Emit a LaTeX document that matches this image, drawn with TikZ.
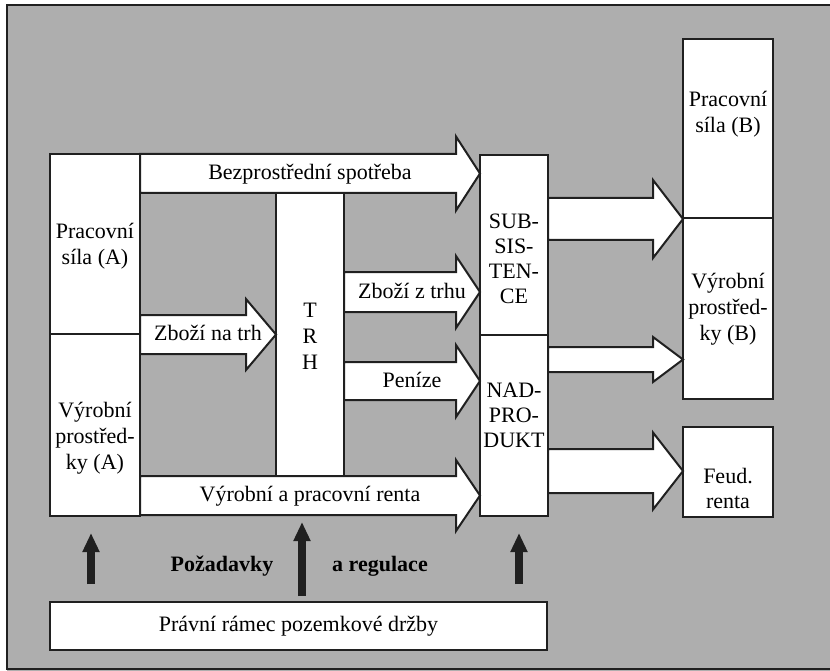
\documentclass[tikz,border=0pt]{standalone}
\usepackage{fontspec}
\setmainfont{Liberation Serif}
\usetikzlibrary{arrows.meta}
\definecolor{bg}{RGB}{174,174,174}
\definecolor{ink}{RGB}{32,32,32}
\tikzset{
  box/.style={draw=ink, fill=white, line width=2pt, inner sep=0pt, outer sep=0pt},
  barrow/.style={draw=ink, fill=white, line width=2pt, line join=miter},
  lbl/.style={inner sep=0pt, text height=16pt, text depth=4pt, font=\fontsize{22}{26}\selectfont},
  mlbl/.style={inner sep=0pt, align=center, font=\fontsize{22}{26}\selectfont},
  mlbls/.style={inner sep=0pt, align=center, font=\fontsize{22}{25}\selectfont},
  blbl/.style={inner sep=0pt, text height=16pt, text depth=4pt, font=\fontsize{22}{26}\selectfont\bfseries},
  reqarrow/.style={draw=ink, line width=8pt, -{Triangle[width=16pt,length=19pt]}}
}
% #1 name, #2 x0, #3 ytop, #4 ybot, #5 xhead, #6 head half height, #7 xtip, #8 text
\newcommand{\blockarr}[8]{%
  \pgfmathsetmacro{\ymid}{(#3+#4)/2}%
  \pgfmathsetmacro{\hta}{\ymid-#6}%
  \pgfmathsetmacro{\htb}{\ymid+#6}%
  \pgfmathsetmacro{\xmid}{(#2+#7)/2}%
  \draw[barrow] (#2,#3) -- (#5,#3) -- (#5,\hta) -- (#7,\ymid) -- (#5,\htb) -- (#5,#4) -- (#2,#4) -- cycle;
  \node[lbl] (#1) at (\xmid,\ymid) {#8};%
}
\begin{document}
\begin{tikzpicture}[x=1pt, y=-1pt]
\useasboundingbox (0,0) rectangle (830,671);
% background frame
\fill[bg] (7,5) rectangle (830,671);
\draw[ink, line width=1.5pt] (830,5) -- (7,5) -- (7,669) -- (830,669);

% boxes
\node[box, minimum width=90pt, minimum height=180pt] (pracA) at (95,244) {};
\node[box, minimum width=90pt, minimum height=182pt] (vyrA) at (95,425) {};
\node[box, minimum width=68pt, minimum height=283pt] (trh) at (310,334.5) {};
\node[box, minimum width=68pt, minimum height=180pt] (subs) at (514,245) {};
\node[box, minimum width=68pt, minimum height=181pt] (nad) at (514,425.5) {};
\node[box, minimum width=90pt, minimum height=179pt] (pracB) at (728,128.5) {};
\node[box, minimum width=90pt, minimum height=181pt] (vyrB) at (728,308.5) {};
\node[box, minimum width=90pt, minimum height=90pt] (feud) at (728,472) {};
\node[box, minimum width=497pt, minimum height=48pt] (pravni) at (298.5,626) {};

% box texts
\node[mlbl] (pracAt) at (95,246) {Pracovní\\síla (A)};
\node[mlbl] (vyrAt) at (95,438) {Výrobní\\prostřed-\\ky (A)};
\node[mlbl] (trht) at (310,336) {T\\R\\H};
\node[mlbls] (subst) at (514,259) {SUB-\\SIS-\\TEN-\\CE};
\node[mlbls] (nadt) at (514,415) {NAD-\\PRO-\\DUKT};
\node[mlbl] (pracBt) at (728,114) {Pracovní\\síla (B)};
\node[mlbl] (vyrBt) at (728,309) {Výrobní\\prostřed-\\ky (B)};
\node[mlbls] (feudt) at (728,488) {Feud.\\renta};
\node[lbl] (pravnit) at (298.5,625) {Právní rámec pozemkové držby};

% block arrows
\blockarr{a1}{140}{154}{193}{456}{37}{480}{Bezprostřední spotřeba}
\blockarr{a2}{140}{315}{354}{246}{35.5}{276}{Zboží na trh}
\blockarr{a3}{344}{272}{312}{456}{36}{480}{Zboží z trhu}
\blockarr{a4}{344}{362}{400}{456}{36}{480}{Peníze}
\blockarr{a5}{140}{476}{515}{456}{35.5}{480}{Výrobní a pracovní renta}
\blockarr{a6}{548}{198}{240}{653}{39}{683}{}
\blockarr{a7}{548}{347}{372}{653}{22.5}{683}{}
\blockarr{a8}{548}{449}{493}{653}{38.5}{683}{}

% requirement arrows
\coordinate (r1s) at (91,584);  \coordinate (r1e) at (91,533);
\coordinate (r2s) at (302,596); \coordinate (r2e) at (302,522);
\coordinate (r3s) at (519,584); \coordinate (r3e) at (519,533);
\draw[reqarrow] (r1s) -- (r1e);
\draw[reqarrow] (r2s) -- (r2e);
\draw[reqarrow] (r3s) -- (r3e);
\node[blbl] (poz) at (222,565) {Požadavky};
\node[blbl] (reg) at (380,565) {a regulace};
\end{tikzpicture}
\end{document}
